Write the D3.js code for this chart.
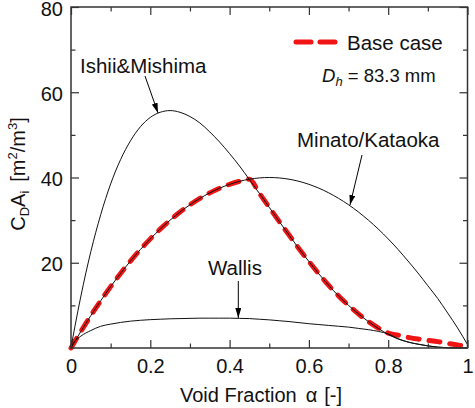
<!DOCTYPE html>
<html>
<head>
<meta charset="utf-8">
<script src="https://cdn.jsdelivr.net/npm/d3@7"></script>
<style>
  body { margin: 0; background: #fff; }
  svg { font-family: "Liberation Sans", Arial, sans-serif; }
</style>
</head>
<body>
<svg id="chart" width="475" height="408"></svg>
<script>
// Void fraction grid shared by all curves
const voidFraction = [0, 0.005, 0.01, 0.025, 0.05, 0.075, 0.1, 0.125, 0.15, 0.175, 0.2, 0.225, 0.25, 0.275, 0.3,
    0.325, 0.35, 0.375, 0.4, 0.425, 0.45, 0.475, 0.5, 0.525, 0.55, 0.575, 0.6, 0.625, 0.65, 0.675, 0.7,
    0.725, 0.75, 0.775, 0.8, 0.825, 0.85, 0.875, 0.9, 0.925, 0.95, 0.975, 1];

const ishiiMishima = [0, 2.6, 5.1, 12.2, 22.6, 31.3, 38.5, 44.2, 48.6, 51.9, 54.1, 55.3, 55.7, 55.3, 54.3,
    52.8, 50.7, 48.3, 45.6, 42.7, 39.5, 36.3, 33.0, 29.7, 26.5, 23.3, 20.3, 17.4, 14.7, 12.2, 10.0,
    8.0, 6.2, 4.6, 3.2, 2.1, 1.4, 0.9, 0.5, 0.2, 0.06, 0.01, 0];

const minatoKataoka = [0, 0.8, 1.6, 3.9, 7.6, 11.1, 14.4, 17.5, 20.4, 23.1, 25.6, 27.9, 30.0, 31.9, 33.6,
    35.1, 36.4, 37.5, 38.4, 39.1, 39.6, 39.9, 40.0, 39.9, 39.6, 39.1, 38.4, 37.5, 36.4, 35.1, 33.6,
    31.9, 30.0, 27.9, 25.6, 23.1, 20.4, 17.6, 14.6, 11.6, 8.2, 4.7, 0.8];

const wallis = [0, 1.0, 1.6, 2.8, 4.1, 5.1, 5.6, 6.0, 6.3, 6.5, 6.65, 6.75, 6.85, 6.9, 6.95,
    7.0, 7.0, 7.0, 7.0, 6.95, 6.9, 6.75, 6.6, 6.4, 6.2, 5.95, 5.7, 5.5, 5.3, 5.1, 4.9,
    4.6, 4.3, 3.9, 3.3, 2.2, 1.4, 0.9, 0.5, 0.2, 0.06, 0.01, 0];

const baseCase = [0, 0.8, 1.6, 3.9, 7.6, 11.1, 14.4, 17.5, 20.4, 23.1, 25.6, 27.9, 30.0, 31.9, 33.6,
    35.1, 36.4, 37.5, 38.4, 39.1, 39.6, 36.3, 33.0, 29.7, 26.5, 23.3, 20.3, 17.4, 14.7, 12.2, 10.0,
    8.0, 6.2, 4.7, 3.5, 3.0, 2.5, 2.1, 1.8, 1.5, 1.1, 0.7, 0.3];

const xMajorTicks = [0, 0.2, 0.4, 0.6, 0.8, 1];
const xMinorTicks = [0.1, 0.3, 0.5, 0.7, 0.9];
const yMajorTicks = [20, 40, 60, 80];
const yMinorTicks = [10, 30, 50, 70];

const svg = d3.select("#chart");
const plotLeft = 71, plotRight = 467.5, plotTop = 7, plotBottom = 348;

const x = d3.scaleLinear().domain([0, 1]).range([plotLeft, plotRight]);
const y = d3.scaleLinear().domain([0, 80]).range([plotBottom, plotTop]);

const pts = (vals) => voidFraction.map((a, i) => [a, vals[i]]);
const line = d3.line()
    .x(d => x(d[0]))
    .y(d => y(d[1]))
    .curve(d3.curveMonotoneX);

// arrow head
svg.append("defs").append("marker")
    .attr("id", "arrow")
    .attr("markerUnits", "userSpaceOnUse")
    .attr("viewBox", "0 0 10 6")
    .attr("refX", 10).attr("refY", 3)
    .attr("markerWidth", 10).attr("markerHeight", 6)
    .attr("orient", "auto")
    .append("path")
    .attr("d", "M0,0 L10,3 L0,6 Z")
    .attr("fill", "#000");

// base case (red dashed) under the black curves
svg.append("path")
    .datum(pts(baseCase))
    .attr("fill", "none")
    .attr("stroke", "#f01414")
    .attr("stroke-width", 5)
    .attr("stroke-linecap", "round")
    .attr("stroke-dasharray", "11,10")
    .attr("d", line);

[ishiiMishima, minatoKataoka, wallis].forEach(vals => {
    svg.append("path")
        .datum(pts(vals))
        .attr("fill", "none")
        .attr("stroke", "#111")
        .attr("stroke-width", 1)
        .attr("d", line);
});

// axes: inward ticks on all four sides
function styleAxis(g) {
    g.select(".domain").remove();
    g.selectAll(".tick line").attr("stroke", "#333").attr("stroke-width", 1.2);
    g.selectAll(".tick text").attr("fill", "#111").attr("font-size", 20)
        .attr("font-family", "'Liberation Sans', Arial, sans-serif");
}
const fmt = d => String(d);

svg.append("g").attr("transform", `translate(0,${plotBottom})`)
    .call(d3.axisBottom(x).tickValues(xMajorTicks).tickSize(-8).tickPadding(11).tickFormat(fmt))
    .call(styleAxis);
svg.append("g").attr("transform", `translate(0,${plotBottom})`)
    .call(d3.axisBottom(x).tickValues(xMinorTicks).tickSize(-4.5).tickFormat(""))
    .call(styleAxis);
svg.append("g").attr("transform", `translate(0,${plotTop})`)
    .call(d3.axisTop(x).tickValues(xMajorTicks).tickSize(-8).tickFormat(""))
    .call(styleAxis);
svg.append("g").attr("transform", `translate(0,${plotTop})`)
    .call(d3.axisTop(x).tickValues(xMinorTicks).tickSize(-4.5).tickFormat(""))
    .call(styleAxis);
svg.append("g").attr("transform", `translate(${plotLeft},0)`)
    .call(d3.axisLeft(y).tickValues(yMajorTicks).tickSize(-8).tickPadding(8))
    .call(styleAxis)
    .call(g => g.selectAll(".tick text").attr("dy", "0.4em"));
svg.append("g").attr("transform", `translate(${plotLeft},0)`)
    .call(d3.axisLeft(y).tickValues(yMinorTicks).tickSize(-4.5).tickFormat(""))
    .call(styleAxis);
svg.append("g").attr("transform", `translate(${plotRight},0)`)
    .call(d3.axisRight(y).tickValues(yMajorTicks).tickSize(-8).tickFormat(""))
    .call(styleAxis);
svg.append("g").attr("transform", `translate(${plotRight},0)`)
    .call(d3.axisRight(y).tickValues(yMinorTicks).tickSize(-4.5).tickFormat(""))
    .call(styleAxis);

svg.append("rect")
    .attr("x", plotLeft).attr("y", plotTop)
    .attr("width", plotRight - plotLeft).attr("height", plotBottom - plotTop)
    .attr("fill", "none").attr("stroke", "#333").attr("stroke-width", 1.5);

// axis titles
const xt = svg.append("text")
    .attr("x", 180).attr("y", 402)
    .attr("font-size", 20).attr("fill", "#111");
xt.append("tspan").text("Void Fraction");
xt.append("tspan").attr("dx", 9).text("\u03b1");
xt.append("tspan").attr("dx", 7).text("[-]");

const yt = svg.append("text")
    .attr("transform", "translate(25,174) rotate(-90)")
    .attr("text-anchor", "middle").attr("font-size", 20).attr("fill", "#111");
yt.append("tspan").text("C");
yt.append("tspan").attr("font-size", 13).attr("dy", 4).text("D");
yt.append("tspan").attr("dy", -4).text("A");
yt.append("tspan").attr("font-size", 13).attr("dy", 4).text("i");
yt.append("tspan").attr("dy", -4).attr("dx", 9).text("[m");
yt.append("tspan").attr("font-size", 13).attr("dy", -8).text("2");
yt.append("tspan").attr("dy", 8).text("/m");
yt.append("tspan").attr("font-size", 13).attr("dy", -8).text("3");
yt.append("tspan").attr("dy", 8).text("]");

// legend
svg.append("line")
    .attr("x1", 296).attr("x2", 336).attr("y1", 42).attr("y2", 42)
    .attr("stroke", "#f01414").attr("stroke-width", 5)
    .attr("stroke-linecap", "round").attr("stroke-dasharray", "15,9");
svg.append("text").attr("x", 347).attr("y", 50).attr("font-size", 20.5).attr("fill", "#111")
    .text("Base case");

const dh = svg.append("text").attr("x", 322).attr("y", 82).attr("font-size", 18.5).attr("fill", "#111");
dh.append("tspan").attr("font-style", "italic").text("D");
dh.append("tspan").attr("font-style", "italic").attr("font-size", 13).attr("dy", 4).text("h");
dh.append("tspan").attr("dy", -4).text(" = 83.3 mm");

// curve labels with arrows
const labels = [
    { text: "Ishii&Mishima", tx: 80, ty: 73, from: [145, 76], to: [158, 113] },
    { text: "Minato/Kataoka", tx: 297, ty: 147, from: [362, 155], to: [350, 205] },
    { text: "Wallis", tx: 208, ty: 275, from: [238.3, 281], to: [238.3, 318] }
];
labels.forEach(l => {
    svg.append("text").attr("x", l.tx).attr("y", l.ty)
        .attr("font-size", 20.5).attr("fill", "#111").text(l.text);
    svg.append("line")
        .attr("x1", l.from[0]).attr("y1", l.from[1])
        .attr("x2", l.to[0]).attr("y2", l.to[1])
        .attr("stroke", "#000").attr("stroke-width", 1)
        .attr("marker-end", "url(#arrow)");
});
</script>
</body>
</html>
